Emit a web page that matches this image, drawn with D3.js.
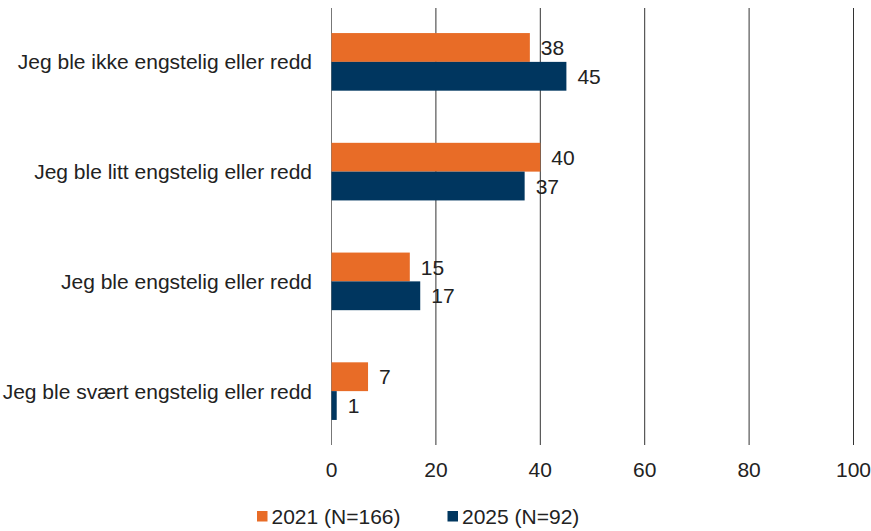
<!DOCTYPE html>
<html>
<head>
<meta charset="utf-8">
<script src="https://cdn.jsdelivr.net/npm/d3@7"></script>
<style>
  body { margin: 0; background: #fff; }
  text { font-family: "Liberation Sans", Arial, sans-serif; fill: #222; }
</style>
</head>
<body>
<div id="chart"></div>
<script>
// Data
const categories = [
    "Jeg ble ikke engstelig eller redd",
    "Jeg ble litt engstelig eller redd",
    "Jeg ble engstelig eller redd",
    "Jeg ble svært engstelig eller redd"
];
const seriesNames = ["2021 (N=166)", "2025 (N=92)"];
const values2021 = [38, 40, 15, 7];
const values2025 = [45, 37, 17, 1];
const xTicks = [0, 20, 40, 60, 80, 100];

const colors = ["#E86C27", "#00365F"];

const width = 871;
const height = 531;
const fontSize = 21;

const svg = d3.select("#chart")
    .append("svg")
    .attr("width", width)
    .attr("height", height);

// Scales
const x = d3.scaleLinear()
    .domain([0, 100])
    .range([331.5, 853.5]);

const y = d3.scaleBand()
    .domain(categories)
    .range([7, 446])
    .paddingInner(0.475)
    .paddingOuter(0.2375);

const ySub = d3.scaleBand()
    .domain(seriesNames)
    .range([0, y.bandwidth()]);

// Gridlines
svg.append("g")
    .selectAll("line")
    .data(xTicks)
    .enter().append("line")
    .attr("x1", d => x(d))
    .attr("x2", d => x(d))
    .attr("y1", 8)
    .attr("y2", 445)
    .attr("stroke", d => d === 0 ? "#777" : "#333")
    .attr("stroke-width", 1);

// Bars
const rows = categories.map((c, i) => ({
    category: c,
    values: [
        { series: seriesNames[0], value: values2021[i], color: colors[0] },
        { series: seriesNames[1], value: values2025[i], color: colors[1] }
    ]
}));

const group = svg.append("g")
    .selectAll("g")
    .data(rows)
    .enter().append("g")
    .attr("transform", d => `translate(0,${y(d.category)})`);

group.selectAll("rect")
    .data(d => d.values)
    .enter().append("rect")
    .attr("x", x(0))
    .attr("y", d => ySub(d.series))
    .attr("width", d => x(d.value) - x(0))
    .attr("height", ySub.bandwidth())
    .attr("fill", d => d.color);

group.selectAll("text.value")
    .data(d => d.values)
    .enter().append("text")
    .attr("class", "value")
    .attr("x", d => x(d.value) + 11)
    .attr("y", d => ySub(d.series) + ySub.bandwidth() / 2)
    .attr("dy", "0.36em")
    .style("font-size", fontSize + "px")
    .text(d => d.value);

// Category labels
svg.append("g")
    .selectAll("text")
    .data(categories)
    .enter().append("text")
    .attr("x", 312)
    .attr("y", d => y(d) + y.bandwidth() / 2)
    .attr("dy", "0.36em")
    .attr("text-anchor", "end")
    .style("font-size", fontSize + "px")
    .text(d => d);

// X tick labels
svg.append("g")
    .selectAll("text")
    .data(xTicks)
    .enter().append("text")
    .attr("x", d => x(d))
    .attr("y", 469)
    .attr("dy", "0.36em")
    .attr("text-anchor", "middle")
    .style("font-size", fontSize + "px")
    .text(d => d);

// Legend
const legendX = [257, 447.5];
const legend = svg.append("g")
    .selectAll("g")
    .data(seriesNames)
    .enter().append("g")
    .attr("transform", (d, i) => `translate(${legendX[i]},511)`);

legend.append("rect")
    .attr("width", 10.5)
    .attr("height", 10.5)
    .attr("fill", (d, i) => colors[i]);

legend.append("text")
    .attr("x", 14.5)
    .attr("y", 5)
    .attr("dy", "0.36em")
    .style("font-size", fontSize + "px")
    .text(d => d);
</script>
</body>
</html>
